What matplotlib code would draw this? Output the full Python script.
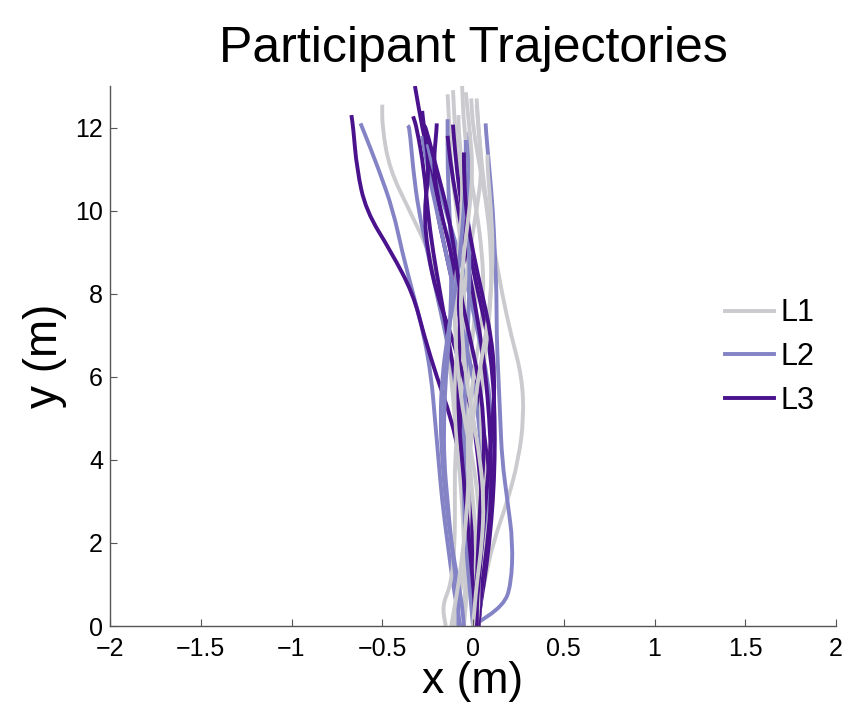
import numpy as np
import matplotlib.pyplot as plt
from matplotlib.path import Path
from matplotlib.patches import PathPatch
from matplotlib.lines import Line2D

plt.rcParams['font.family'] = ['Liberation Sans', 'DejaVu Sans']

y_levels = [0, 0.5, 1, 2, 3, 4, 5, 6, 7, 8, 9, 10, 11, 12]

# ---- L1 trajectories (x in m at y_levels), plus last sample ----
L1_x = [
    [-0.05, -0.05, -0.04, -0.05, -0.06, -0.08, -0.10, -0.12, -0.15, -0.18, -0.24, -0.35, -0.46, -0.50],
    [0.02, 0.04, 0.06, 0.11, 0.19, 0.25, 0.28, 0.27, 0.21, 0.16, 0.12, 0.08, 0.05, 0.03],
    [-0.15, -0.17, -0.12, -0.10, -0.10, -0.10, -0.08, -0.06, -0.04, -0.05, -0.06, -0.09, -0.12, -0.13],
    [-0.10, -0.09, -0.06, -0.03, -0.02, -0.03, -0.04, -0.03, 0.00, 0.02, 0.00, -0.04, -0.08, -0.10],
    [0.00, 0.00, 0.01, 0.02, 0.00, -0.02, -0.02, 0.00, 0.04, 0.06, 0.05, 0.02, -0.02, -0.05],
    [0.03, 0.04, 0.05, 0.07, 0.08, 0.06, 0.04, 0.05, 0.08, 0.10, 0.10, 0.08, 0.04, 0.00],
    [-0.05, -0.04, -0.03, -0.03, -0.05, -0.08, -0.10, -0.10, -0.08, -0.05, -0.02, 0.02, 0.05, 0.03],
    [0.02, 0.03, 0.03, 0.04, 0.03, 0.00, -0.05, -0.08, -0.10, -0.10, -0.08, -0.06, -0.06, -0.08],
    [-0.12, -0.10, -0.08, -0.05, -0.03, -0.02, 0.00, 0.03, 0.07, 0.10, 0.11, 0.10, 0.08],
    [0.00, 0.01, 0.02, 0.05, 0.06, 0.04, 0.00, -0.04, -0.06, -0.07, -0.05, -0.02, 0.00, -0.02],
]
L1_top_x = [-0.50, 0.02, -0.14, -0.11, -0.06, -0.01, 0.02, -0.08, 0.08, -0.04]
L1_top_y = [12.55, 12.7, 12.8, 12.9, 13.0, 12.7, 12.55, 12.3, 11.35, 12.85]

# ---- L2 ----
L2_x = [
    [-0.07, -0.09, -0.11, -0.14, -0.17, -0.19, -0.21, -0.23, -0.27, -0.33, -0.39, -0.44, -0.52, -0.61],
    [0.00, 0.17, 0.21, 0.22, 0.19, 0.16, 0.15, 0.14, 0.13, 0.13, 0.12, 0.11, 0.09, 0.07],
    [0.02, 0.01, 0.00, -0.02, -0.03, -0.05, -0.08, -0.10, -0.15, -0.20, -0.25, -0.30, -0.33, -0.35],
    [0.02, 0.03, 0.04, 0.05, 0.06, 0.05, 0.03, 0.00, -0.05, -0.10, -0.15, -0.20, -0.25],
    [-0.08, -0.08, -0.09, -0.12, -0.14, -0.16, -0.16, -0.15, -0.13, -0.12, -0.12, -0.13, -0.14, -0.14],
    [0.00, 0.01, 0.02, 0.05, 0.08, 0.10, 0.10, 0.08, 0.03, -0.02, -0.08, -0.15, -0.22],
    [0.00, -0.01, -0.02, -0.04, -0.05, -0.05, -0.05, -0.04, -0.03, -0.02, -0.02, -0.03, -0.02],
    [-0.05, -0.06, -0.08, -0.12, -0.15, -0.17, -0.18, -0.17, -0.14, -0.10, -0.07, -0.05, -0.04],
]
L2_top_x = [-0.62, 0.07, -0.36, -0.28, -0.14, -0.25, -0.02, -0.04]
L2_top_y = [12.1, 12.1, 12.05, 11.8, 12.2, 11.6, 11.9, 11.7]

# ---- L3 ----
L3_x = [
    [0.02, 0.02, 0.02, 0.00, -0.03, -0.07, -0.12, -0.20, -0.27, -0.33, -0.45, -0.59, -0.64, -0.66],
    [0.02, 0.03, 0.04, 0.06, 0.08, 0.08, 0.05, 0.00, -0.05, -0.10, -0.15, -0.20, -0.23, -0.28],
    [0.00, 0.00, 0.01, 0.00, -0.01, -0.03, -0.06, -0.10, -0.14, -0.18, -0.22, -0.25, -0.27, -0.31],
    [0.03, 0.04, 0.05, 0.06, 0.05, 0.03, 0.00, -0.05, -0.12, -0.20, -0.25, -0.27, -0.24, -0.27],
    [0.03, 0.04, 0.06, 0.09, 0.11, 0.12, 0.12, 0.11, 0.08, 0.03, -0.02, -0.06, -0.09, -0.11],
    [0.03, 0.04, 0.05, 0.08, 0.10, 0.10, 0.09, 0.07, 0.04, 0.00, -0.04, -0.08, -0.12],
    [0.01, 0.01, 0.00, -0.02, -0.04, -0.06, -0.08, -0.08, -0.07, -0.08, -0.12, -0.18, -0.22, -0.20],
    [0.02, 0.02, 0.02, 0.03, 0.04, 0.06, 0.06, 0.03, -0.02, -0.07, -0.10, -0.14, -0.20, -0.26],
    [0.02, 0.02, 0.03, 0.05, 0.07, 0.09, 0.11, 0.12, 0.10, 0.05, 0.00, -0.04, -0.05],
]
L3_top_x = [-0.67, -0.32, -0.33, -0.28, -0.11, -0.14, -0.20, -0.27, -0.05]
L3_top_y = [12.3, 13.0, 12.27, 12.4, 12.07, 11.8, 12.1, 12.05, 11.4]

x_ticks = [-2, -1.5, -1, -0.5, 0, 0.5, 1, 1.5, 2]
x_tick_labels = ['\u22122', '\u22121.5', '\u22121', '\u22120.5', '0', '0.5', '1', '1.5', '2']
y_ticks = [0, 2, 4, 6, 8, 10, 12]

colors = {'L1': '#cbcbcf', 'L2': '#8383c6', 'L3': '#4a128d'}
groups = [('L1', L1_x, L1_top_x, L1_top_y),
          ('L2', L2_x, L2_top_x, L2_top_y),
          ('L3', L3_x, L3_top_x, L3_top_y)]
LW = 2.8


def smooth_path(px, py):
    # quadratic bezier through midpoints, sample points act as controls
    verts = [(px[0], py[0]), ((px[0] + px[1]) / 2, (py[0] + py[1]) / 2)]
    codes = [Path.MOVETO, Path.LINETO]
    for i in range(1, len(px) - 1):
        verts += [(px[i], py[i]), ((px[i] + px[i + 1]) / 2, (py[i] + py[i + 1]) / 2)]
        codes += [Path.CURVE3, Path.CURVE3]
    verts.append((px[-1], py[-1]))
    codes.append(Path.LINETO)
    return Path(verts, codes)


fig = plt.figure(figsize=(8.49, 7.19), dpi=100)
ax = fig.add_axes([110 / 849, 93 / 719, 726 / 849, 540 / 719])

# interleave participants so no level sits fully on top
n_max = max(len(g[1]) for g in groups)
for i in range(n_max):
    for name, xs, tx, ty in groups:
        if i >= len(xs):
            continue
        px = list(xs[i]) + [tx[i]]
        py = list(y_levels[:len(xs[i])]) + [ty[i]]
        ax.add_patch(PathPatch(smooth_path(px, py), facecolor='none',
                               edgecolor=colors[name], lw=LW,
                               capstyle='butt', joinstyle='round'))

ax.set_xlim(-2, 2)
ax.set_ylim(0, 13)
ax.set_xticks(x_ticks)
ax.set_xticklabels(x_tick_labels)
ax.set_yticks(y_ticks)

for s in ['top', 'right']:
    ax.spines[s].set_visible(False)
for s in ['left', 'bottom']:
    ax.spines[s].set_color('#555555')
    ax.spines[s].set_linewidth(1.0)
ax.tick_params(direction='in', length=5, width=0.8, color='#555555',
               labelsize=18)
ax.tick_params(axis='x', pad=8)
ax.tick_params(axis='y', pad=5)

ax.set_title('Participant Trajectories', fontsize=36, pad=17)
ax.set_xlabel('x (m)', fontsize=32, labelpad=0)
ax.set_ylabel('y (m)', fontsize=33, labelpad=6)

handles = [Line2D([], [], color=colors[k], lw=LW) for k in ['L1', 'L2', 'L3']]
ax.legend(handles, ['L1', 'L2', 'L3'],
          loc='center left', bbox_to_anchor=((725 - 110) / 726, (626 - 357) / 540),
          frameon=False, fontsize=22, handlelength=1.6, handletextpad=0.22,
          labelspacing=0.45, borderpad=0, borderaxespad=0)

fig.savefig('out.png', dpi=100, facecolor='white')
